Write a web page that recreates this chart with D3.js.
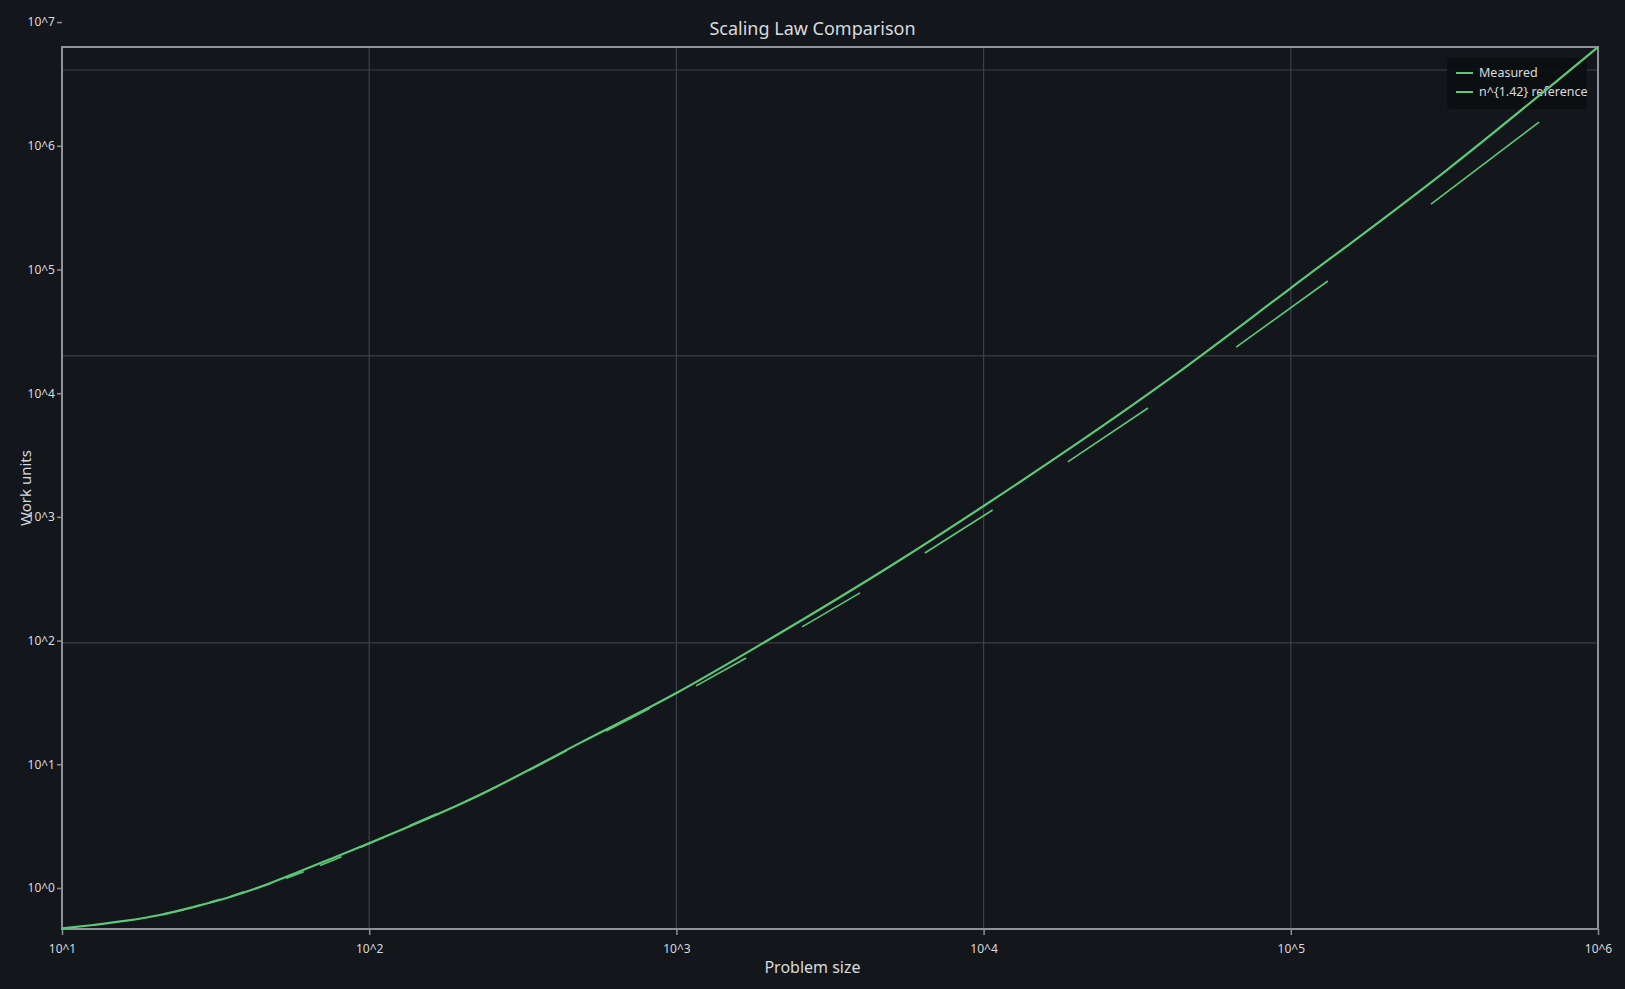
<!DOCTYPE html>
<html>
<head>
<meta charset="utf-8">
<script src="https://cdn.jsdelivr.net/npm/d3@7"></script>
<style>
  body { margin: 0; background: #13161b; }
  text { font-family: "Noto Sans", "Open Sans", sans-serif; }
</style>
</head>
<body>
<div id="chart"></div>
<script>
// values
const refN = [10, 12.65, 16.24, 20.84, 26.76, 34.37, 44.11, 56.6, 72.7, 93.3, 229, 486, 1000, 1941, 5346, 10000, 39800, 100000, 322000, 1000000];
const refW = [0.4707, 0.502, 0.544, 0.605, 0.702, 0.830, 1.019, 1.298, 1.668, 2.145, 5.65, 14.9, 37.7, 97.4, 448, 1224, 12800, 70800, 637000, 6290000];

// measured runs: [[n start, work start], [n end, work end]]
const measured = [
  [[23.4, 0.643], [24.9, 0.667]],
  [[26.3, 0.688], [28.2, 0.727]],
  [[30.2, 0.765], [32.8, 0.809]],
  [[35.5, 0.858], [39.1, 0.930]],
  [[42.7, 0.996], [47.8, 1.089]],
  [[53.7, 1.196], [61.2, 1.352]],
  [[69.2, 1.517], [81.3, 1.790]],
  [[93.3, 2.125], [112, 2.58]],
  [[135, 3.19], [166, 3.98]],
  [[204, 4.96], [260, 6.59]],
  [[331, 8.91], [440, 12.9]],
  [[590, 18.6], [820, 28.3]],
  [[1159, 43.0], [1687, 72.3]],
  [[2565, 129], [3960, 243]],
  [[6440, 511], [10700, 1137]],
  [[18800, 2780], [34300, 7590]],
  [[66400, 23600], [132000, 80700]],
  [[286000, 338000], [643000, 1556000]]
];

const xTicks = [10, 100, 1000, 10000, 100000, 1000000];
const xTickLabels = ["10^1", "10^2", "10^3", "10^4", "10^5", "10^6"];
const yTicks = [1, 10, 100, 1000, 10000, 100000, 1000000, 10000000];
const yTickLabels = ["10^0", "10^1", "10^2", "10^3", "10^4", "10^5", "10^6", "10^7"];
const yGrid = [96, 20000, 4100000];
const yDomain = [0.466, 6290000];
const legendLabels = ["Measured", "n^{1.42} reference"];

const W = 1625, H = 989;
const margin = {top: 47, right: 27, bottom: 60, left: 62};
const width = W - margin.left - margin.right;
const height = H - margin.top - margin.bottom;

const green = "#5cc878";
const textCol = "#d9dbde";

const svg = d3.select("#chart").append("svg")
  .attr("width", W)
  .attr("height", H)
  .style("background", "#13161b");

const plot = svg.append("g")
  .attr("transform", `translate(${margin.left},${margin.top})`);

const x = d3.scaleLog().domain([xTicks[0], xTicks[xTicks.length - 1]]).range([0, width]);
const y = d3.scaleLog().domain(yDomain).range([height, 0]);

// grid
plot.append("g").selectAll("line")
  .data(xTicks.slice(1, -1))
  .enter().append("line")
  .attr("x1", d => x(d)).attr("x2", d => x(d))
  .attr("y1", 0).attr("y2", height)
  .attr("stroke", "#3d4046").attr("stroke-width", 1.2);

plot.append("g").selectAll("line")
  .data(yGrid)
  .enter().append("line")
  .attr("x1", 0).attr("x2", width)
  .attr("y1", d => y(d)).attr("y2", d => y(d))
  .attr("stroke", "#3d4046").attr("stroke-width", 1.2);

// axes
const xAxis = plot.append("g")
  .attr("transform", `translate(0,${height})`)
  .call(d3.axisBottom(x).tickValues(xTicks).tickFormat((d, i) => xTickLabels[i]).tickSize(6).tickPadding(9));

const yAxis = plot.append("g")
  .call(d3.axisLeft(y).tickValues(yTicks).tickFormat((d, i) => yTickLabels[i]).tickSize(5).tickPadding(2));

[xAxis, yAxis].forEach(a => {
  a.select(".domain").remove();
  a.selectAll("line").attr("stroke", "#8e9196").attr("stroke-width", 1.5);
  a.selectAll("text").attr("fill", textCol).style("font-size", "12px")
    .style("font-family", '"Noto Sans", sans-serif');
});

// frame
plot.append("rect")
  .attr("width", width).attr("height", height)
  .attr("fill", "none")
  .attr("stroke", "#8e9196")
  .attr("stroke-width", 2);

// legend (drawn under the lines)
const legend = plot.append("g")
  .attr("transform", `translate(${width - 151},11)`);

legend.append("rect")
  .attr("width", 140).attr("height", 51).attr("rx", 4)
  .attr("fill", "#0c0e11").attr("opacity", 0.85);

legendLabels.forEach((lab, i) => {
  const row = legend.append("g").attr("transform", `translate(9,${15 + i * 19})`);
  row.append("line").attr("x1", 0).attr("x2", 17)
    .attr("stroke", green).attr("stroke-width", 2);
  row.append("text").attr("x", 23).attr("dy", "0.35em")
    .attr("fill", textCol).style("font-size", "12.5px").text(lab);
});

// reference curve
const refLine = d3.line()
  .x(d => x(d[0]))
  .y(d => y(d[1]))
  .curve(d3.curveMonotoneX);

plot.append("path")
  .datum(refN.map((n, i) => [n, refW[i]]))
  .attr("d", refLine)
  .attr("fill", "none")
  .attr("stroke", green)
  .attr("stroke-width", 2.2);

// measured runs
const segLine = d3.line().x(d => x(d[0])).y(d => y(d[1]));

plot.append("g").selectAll("path")
  .data(measured)
  .enter().append("path")
  .attr("d", segLine)
  .attr("fill", "none")
  .attr("stroke", green)
  .attr("stroke-width", 1.6);

// titles
svg.append("text")
  .attr("x", W / 2).attr("y", 35)
  .attr("text-anchor", "middle")
  .attr("fill", textCol)
  .style("font-size", "18px")
  .text("Scaling Law Comparison");

svg.append("text")
  .attr("x", W / 2).attr("y", 973)
  .attr("text-anchor", "middle")
  .attr("fill", textCol)
  .style("font-size", "16px")
  .text("Problem size");

svg.append("text")
  .attr("transform", `translate(31,${margin.top + height / 2}) rotate(-90)`)
  .attr("text-anchor", "middle")
  .attr("fill", textCol)
  .style("font-size", "15px")
  .text("Work units");
</script>
</body>
</html>
